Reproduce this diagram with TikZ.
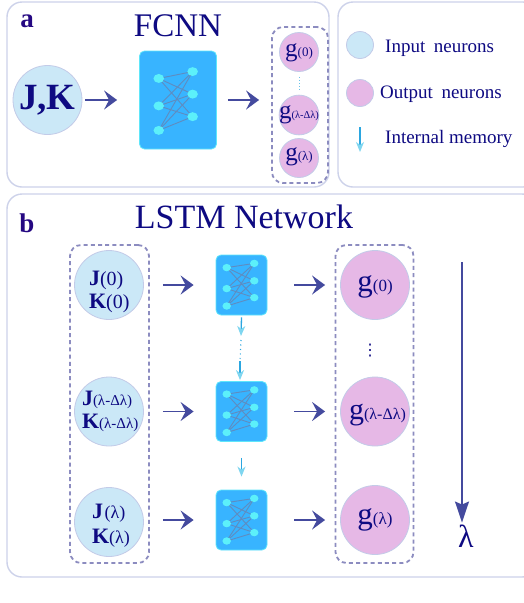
\documentclass[tikz,border=0pt]{standalone}
\usepackage{fontspec}
\setmainfont{Liberation Serif}
\newfontfamily\symfont{DejaVu Sans}
\usetikzlibrary{arrows.meta,calc}
\definecolor{navy}{HTML}{0E0A82}
\definecolor{panelc}{HTML}{CDD2EA}
\definecolor{incol}{HTML}{CBE8F7}
\definecolor{outcol}{HTML}{E6B8E6}
\definecolor{ringc}{HTML}{C3CBE8}
\definecolor{arrowc}{HTML}{444A9E}
\definecolor{dashc}{HTML}{8C8CC0}
\definecolor{boxc}{HTML}{38B4FF}
\definecolor{boxe}{HTML}{5FE6FA}
\definecolor{neuron}{HTML}{5CF0FA}
\definecolor{wirec}{HTML}{5F8CC0}
\definecolor{memc}{HTML}{2BA6E0}
\definecolor{memt}{HTML}{7FD6F0}
\newcommand{\fs}[1]{\fontsize{#1}{#1}\selectfont}
% name, centre x, centre y, width, height, left x, right x, left ys, right ys
\newcommand{\nnet}[9]{%
  \node[netbox,minimum width=#4pt,minimum height=#5pt] (#1) at (#2,#3) {};
  \begin{scope}[shift={(#2,#3)}]
    \foreach \l in {#8}{\foreach \r in {#9}{
      \draw[wirec,line width=.9pt] (-#6*#4,\l*#5) -- (#7*#4,\r*#5);}}
    \foreach \l in {#8}{\fill[neuron] (-#6*#4,\l*#5) ellipse ({.04*#4+2.2} and {.02*#5+2.5});}
    \foreach \r in {#9}{\fill[neuron] (#7*#4,\r*#5) ellipse ({.04*#4+2.2} and {.02*#5+2.5});}
  \end{scope}}
\tikzset{
  panel/.style={draw=panelc,line width=1.4pt,rounded corners=15pt},
  dashbox/.style={draw=dashc,line width=1.8pt,dash pattern=on 4pt off 3.2pt,rounded corners=11pt},
  netbox/.style={draw=boxe,fill=boxc,line width=.8pt,rounded corners=5pt,inner sep=0pt},
  inp/.style={circle,draw=ringc,fill=incol,line width=.8pt,inner sep=0pt,text=navy},
  outp/.style={circle,draw=ringc,fill=outcol,line width=.8pt,inner sep=0pt,text=navy},
  flow/.style={draw=arrowc,line width=1.8pt,-{Stealth[length=13pt,width=19pt,inset=5pt]}},
  mem/.style={draw=memc,line width=1.3pt,-{Stealth[open,length=10pt,width=8pt,inset=3pt,fill=memt,color=memt]}},
  txt/.style={text=navy,inner sep=0pt},
  leg/.style={text=navy,inner sep=0pt,anchor=west,font=\fs{19}}
}
% g size, sub size, sub, baseline drop
\newcommand{\gsub}[4]{\raisebox{-#4pt}[0pt][0pt]{{\fs{#1}g}{\fs{#2}#3}}}
% left offset, baseline 1, baseline 2, line 1, line 2
\newcommand{\jk}[5]{\makebox[0pt][l]{\hspace{-#1pt}\raisebox{#2pt}[0pt][0pt]{#4}}\makebox[0pt][l]{\hspace{-#1pt}\raisebox{-#3pt}[0pt][0pt]{#5}}}
\begin{document}
\begin{tikzpicture}[x=1pt,y=-1pt]
\useasboundingbox (0,0) rectangle (524,603);
\clip (0,0) rectangle (524,603);
\fill[white] (0,0) rectangle (524,603);
% panels
\node[panel,minimum width=322pt,minimum height=185pt,inner sep=0pt] (pa) at (168,94.5) {};
\node[panel,minimum width=200pt,minimum height=185pt,inner sep=0pt] (pl) at (438,94.5) {};
\node[panel,minimum width=530pt,minimum height=383pt,inner sep=0pt] (pb) at (272,385.5) {};
% titles
\node[txt,font=\bfseries\fs{27},text=navy!80!violet] (la) at (27,21) {a};
\node[txt,font=\bfseries\fs{27},text=navy!80!violet] (lb) at (27,223) {b};
\node[txt,font=\fs{33}] (tfcnn) at (178,26) {FCNN};
\node[txt,font=\fs{34}] (tlstm) at (244,217) {LSTM Network};
% panel a
\node[inp,minimum size=69pt,font=\bfseries\fs{37}] (jk) at (47.5,100) {J,K};
\nnet{neta}{178}{100}{77}{98}{.25}{.19}{-.22,.06,.31}{-.29,-.06,.17}
\node[dashbox,minimum width=56pt,minimum height=156pt,inner sep=0pt] (da) at (300,105) {};
\node[outp,minimum size=39pt] (ga0) at (299,52) {\gsub{25}{13}{(0)}{4}};
\node[outp,minimum size=39pt] (ga1) at (299,115) {\gsub{25}{10.5}{(λ-Δλ)}{3}};
\node[outp,minimum size=39pt] (ga2) at (299,158) {\gsub{25}{13}{(λ)}{2.5}};
\draw[flow,shorten <=3pt,shorten >=22pt] (jk.east) -- (neta.west);
\draw[flow,shorten <=11pt,shorten >=12pt] (neta.east) -- (neta.east -| da.west);
\draw[memc!70,line width=1pt,dash pattern=on 1pt off 2pt,shorten <=5pt,shorten >=3pt] (ga0) -- (ga1);
% legend
\node[inp,minimum size=27pt] (li) at (360,45) {};
\node[outp,minimum size=27pt] (lo) at (360,93) {};
\coordinate (m1) at (360,127);
\coordinate (m2) at (360,152);
\draw[mem] (m1) -- (m2);
\node[leg] (ti) at (385,48) {Input\hspace{.45em}neurons};
\node[leg] (to) at (380,94) {Output\hspace{.45em}neurons};
\node[leg] (tm) at (385,139) {Internal memory};
% panel b
\node[dashbox,minimum width=79pt,minimum height=318pt,inner sep=0pt] (dl) at (109.5,404) {};
\node[dashbox,minimum width=78pt,minimum height=318pt,inner sep=0pt] (dr) at (374.5,404) {};
\node[inp,minimum size=69pt] (i0) at (109,285) {\jk{20}{0}{23}{{\fs{22}\bfseries J}{\fs{20}(0)}}{{\fs{22}\bfseries K}{\fs{20}(0)}}};
\node[inp,minimum size=69pt] (i1) at (109,411.5) {\jk{27}{6}{17}{{\fs{22}\bfseries J}{\fs{15}(λ-Δλ)}}{{\fs{22}\bfseries K}{\fs{15}(λ-Δλ)}}};
\node[inp,minimum size=69pt] (i2) at (109,522) {\jk{17}{4}{21}{{\fs{22}\bfseries J}\,{\fs{18}(λ)}}{{\fs{22}\bfseries K}{\fs{18}(λ)}}};
\nnet{n0}{241.5}{285}{51}{60}{.29}{.25}{-.29,.06,.35}{-.36,-.07,.21}
\nnet{n1}{241.5}{411.5}{51}{60}{.29}{.25}{-.29,.06,.35}{-.36,-.07,.21}
\nnet{n2}{241.5}{520}{51}{60}{.29}{.25}{-.29,.06,.35}{-.36,-.07,.21}
\node[outp,minimum size=69pt] (o0) at (375,285) {\gsub{31}{17}{(0)}{6}};
\node[outp,minimum size=69pt] (o1) at (375,411.5) {\hspace{5pt}\gsub{30}{16}{(λ-Δλ)}{8}};
\node[outp,minimum size=69pt] (o2) at (375,520) {\gsub{31}{17}{(λ)}{4}};
\foreach \a/\b/\c in {i0/n0/o0,i1/n1/o1,i2/n2/o2}{
  \draw[flow,shorten <=19pt,shorten >=22pt] (\a.east |- \b.west) -- (\b.west);
  \draw[flow,shorten <=27pt,shorten >=15pt] (\b.east) -- (\c.west);
}
\coordinate (d0) at (241,336);
\coordinate (d1) at (240,361);
\draw[mem] (n0.south) ++(0,2) -- (d0);
\draw[memc,line width=1.1pt,dash pattern=on 1pt off 3.5pt] (d0)++(0,4) -- (d1);
\draw[mem] (d1) -- ($(n1.north)+(-1.5,-1)$);
\draw[mem] ($(n1.south)+(0,16)$) -- ($(n2.north)+(0,-13)$);
\node[txt,font=\symfont\fs{16}] (vd) at (370,351) {⋮};
\coordinate (la1) at (462,262);
\node[txt,font=\fs{32}] (lam) at (466,536) {λ};
\draw[arrowc,line width=1.6pt,shorten >=2pt,-{Stealth[length=21pt,width=14pt,inset=3pt]}] (la1) -- (lam.north -| la1);
\end{tikzpicture}
\end{document}
